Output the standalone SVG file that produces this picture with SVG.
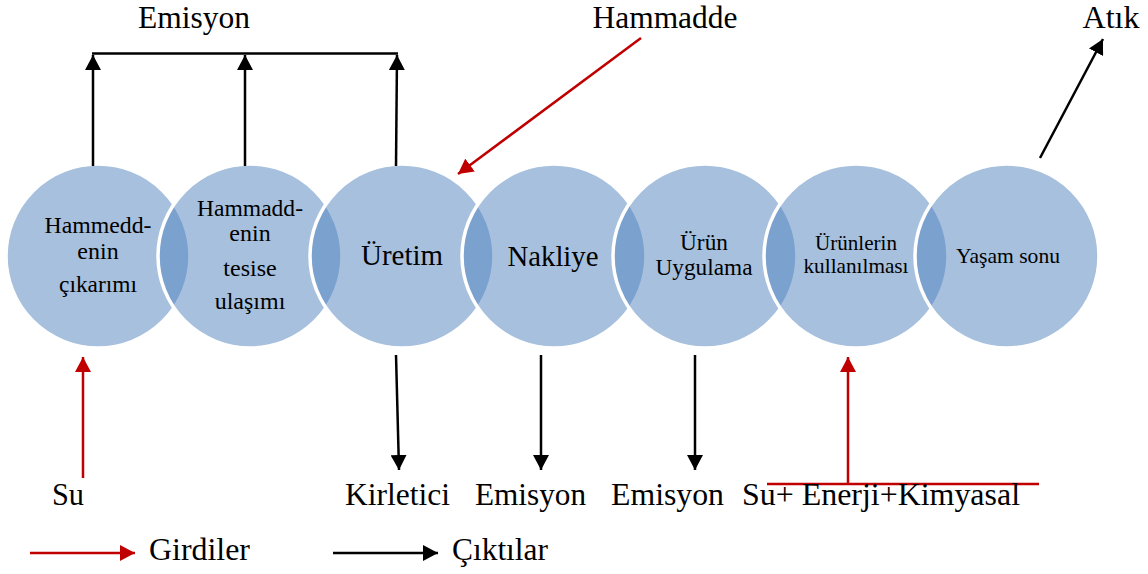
<svg xmlns="http://www.w3.org/2000/svg" width="1148" height="574" viewBox="0 0 1148 574">
<defs>
<style>
.c{fill:#4F81BD;fill-opacity:0.5;stroke:#FFFFFF;stroke-width:3.5}
.t{fill:#000;text-anchor:middle}
.lbl{fill:#000;font-size:31px}
.blk{stroke:#000;stroke-width:2.5;fill:none}
.red{stroke:#C00000;stroke-width:2.5;fill:none}
</style>
<marker id="ab" markerUnits="userSpaceOnUse" markerWidth="16" markerHeight="16" refX="15" refY="8" orient="auto" viewBox="0 0 16 16"><path d="M0,0 L15,8 L0,16 z" fill="#000"/></marker>
<marker id="ar" markerUnits="userSpaceOnUse" markerWidth="16" markerHeight="16" refX="15" refY="8" orient="auto" viewBox="0 0 16 16"><path d="M0,0 L15,8 L0,16 z" fill="#C00000"/></marker>
</defs>
<rect width="1148" height="574" fill="#fff"/>
<g font-family="'Liberation Serif', Tinos, 'Times New Roman', 'DejaVu Serif', 'Noto Serif', serif">
<g id="n1"><circle class="c" cx="98" cy="256" r="92"/>
<text class="t" font-size="24" x="98" y="233" textLength="107" lengthAdjust="spacingAndGlyphs">Hammedd-</text>
<text class="t" font-size="24" x="98" y="259">enin</text>
<text class="t" font-size="24" x="98" y="292" textLength="78" lengthAdjust="spacingAndGlyphs">çıkarımı</text></g>
<g id="n2"><circle class="c" cx="250" cy="256" r="92"/>
<text class="t" font-size="24" x="250" y="216" textLength="106" lengthAdjust="spacingAndGlyphs">Hammadd-</text>
<text class="t" font-size="24" x="250" y="241">enin</text>
<text class="t" font-size="24" x="250" y="276">tesise</text>
<text class="t" font-size="24" x="250" y="309">ulaşımı</text></g>
<g id="n3"><circle class="c" cx="402" cy="256" r="92"/>
<text class="t" font-size="29" x="402" y="265" textLength="82" lengthAdjust="spacingAndGlyphs">Üretim</text></g>
<g id="n4"><circle class="c" cx="554" cy="256" r="92"/>
<text class="t" font-size="29" x="553" y="266" textLength="91" lengthAdjust="spacingAndGlyphs">Nakliye</text></g>
<g id="n5"><circle class="c" cx="705" cy="256" r="92"/>
<text class="t" font-size="23.3" x="704" y="250">Ürün</text>
<text class="t" font-size="23.3" x="704" y="275" textLength="97" lengthAdjust="spacingAndGlyphs">Uygulama</text></g>
<g id="n6"><circle class="c" cx="856" cy="256" r="92"/>
<text class="t" font-size="21" x="856" y="250" textLength="82" lengthAdjust="spacingAndGlyphs">Ürünlerin</text>
<text class="t" font-size="21" x="856" y="273" textLength="105" lengthAdjust="spacingAndGlyphs">kullanılması</text></g>
<g id="n7"><circle class="c" cx="1007" cy="256" r="92"/>
<text class="t" font-size="21" x="1008" y="263" textLength="104" lengthAdjust="spacingAndGlyphs">Yaşam sonu</text></g>
<g id="connectors">
<line class="blk" x1="92" y1="53.5" x2="398" y2="53.5"/>
<line class="blk" x1="93" y1="166" x2="93" y2="55" marker-end="url(#ab)"/>
<line class="blk" x1="245" y1="166" x2="245" y2="55" marker-end="url(#ab)"/>
<line class="blk" x1="396" y1="166" x2="397" y2="55" marker-end="url(#ab)"/>
<line class="red" x1="641" y1="38" x2="458" y2="174" marker-end="url(#ar)"/>
<line class="blk" x1="1040" y1="158" x2="1103" y2="39" marker-end="url(#ab)"/>
<line class="red" x1="83" y1="478" x2="83" y2="357" marker-end="url(#ar)"/>
<line class="blk" x1="396" y1="355" x2="399" y2="470" marker-end="url(#ab)"/>
<line class="blk" x1="541" y1="355" x2="541" y2="470" marker-end="url(#ab)"/>
<line class="blk" x1="695" y1="355" x2="695" y2="470" marker-end="url(#ab)"/>
<line class="red" x1="848" y1="484" x2="848" y2="357" marker-end="url(#ar)"/>
<line class="red" x1="767" y1="484" x2="1039" y2="484"/>
<line class="red" x1="30" y1="553" x2="135" y2="553" marker-end="url(#ar)"/>
<line class="blk" x1="333" y1="553" x2="438" y2="553" marker-end="url(#ab)"/>
</g>
<g id="labels">
<text class="lbl" x="194" y="28" text-anchor="middle" textLength="112" lengthAdjust="spacingAndGlyphs">Emisyon</text>
<text class="lbl" x="665" y="28" text-anchor="middle" textLength="145" lengthAdjust="spacingAndGlyphs">Hammadde</text>
<text class="lbl" x="1111" y="28" text-anchor="middle" textLength="57" lengthAdjust="spacingAndGlyphs">Atık</text>
<text class="lbl" x="52" y="505" textLength="32" lengthAdjust="spacingAndGlyphs">Su</text>
<text class="lbl" x="345" y="505" textLength="105" lengthAdjust="spacingAndGlyphs">Kirletici</text>
<text class="lbl" x="475" y="505" textLength="111" lengthAdjust="spacingAndGlyphs">Emisyon</text>
<text class="lbl" x="611" y="505" textLength="113" lengthAdjust="spacingAndGlyphs">Emisyon</text>
<text class="lbl" x="742" y="505" textLength="278" lengthAdjust="spacingAndGlyphs">Su+ Enerji+Kimyasal</text>
<text class="lbl" x="149" y="560" textLength="101" lengthAdjust="spacingAndGlyphs">Girdiler</text>
<text class="lbl" x="452" y="560" textLength="96" lengthAdjust="spacingAndGlyphs">Çıktılar</text>
</g>
</g>
</svg>
